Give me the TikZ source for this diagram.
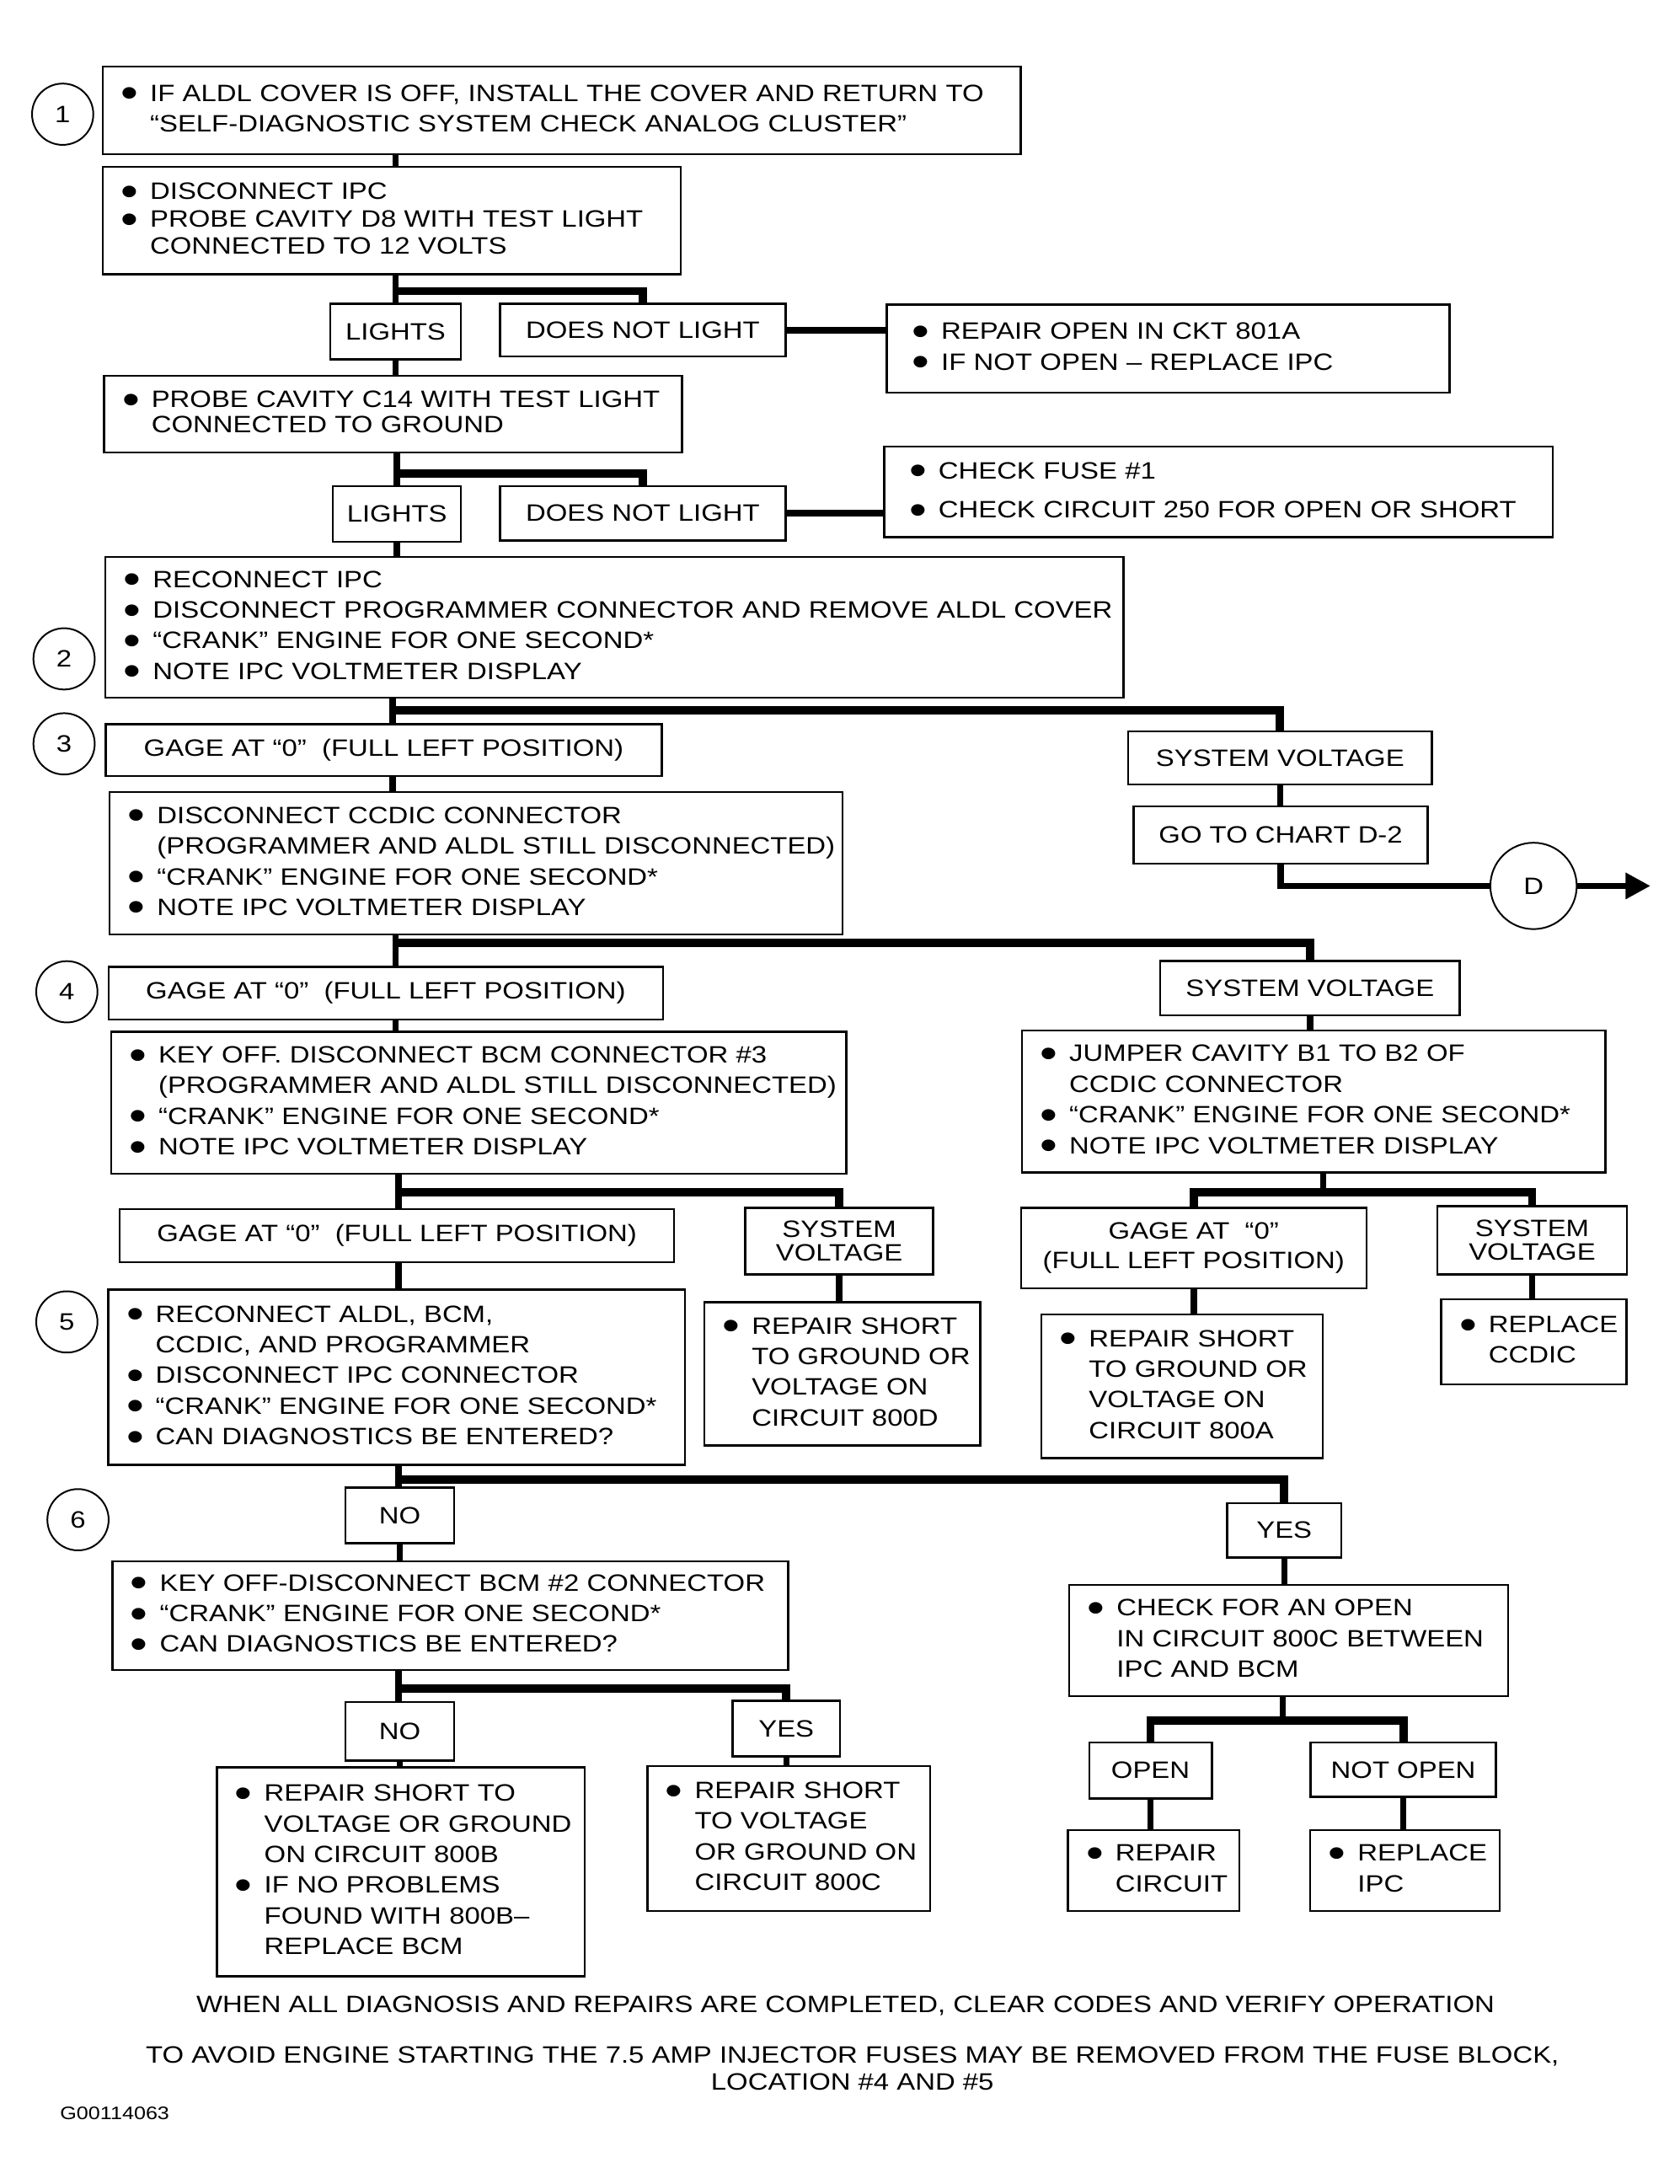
\documentclass[tikz,border=0pt]{standalone}
\usepackage{fontspec}
\setmainfont{Liberation Sans}[FakeStretch=1.17]
\usetikzlibrary{arrows.meta}

\newcommand\chartfont{\fontsize{17}{22}\selectfont}
\newcommand\bul{\makebox[21pt][l]{\raisebox{-4.6pt}{\scalebox{1.8}{\textbullet}}}}
\newcommand\hang{\hspace*{21pt}}
\newcommand\rows[1]{\noindent\begin{tabular}{@{}l@{}}#1\end{tabular}}

\tikzstyle{every node}=[font=\chartfont]
\tikzstyle{box}=[draw, line width=1.5pt, inner ysep=0pt]
\tikzstyle{txt}=[box, anchor=north west, align=left, inner xsep=13pt]
\tikzstyle{lbl}=[box, align=center, inner sep=0pt]
\tikzstyle{num}=[draw, circle, line width=1.2pt, minimum size=44pt, inner sep=0pt]
\tikzstyle{link}=[line width=4.5pt]
\tikzstyle{bar}=[line width=6pt]

\begin{document}
\begin{tikzpicture}[x=1pt, y=-1pt]
\useasboundingbox (0,0) rectangle (1205.6,1567.9);
% Step numbers
    \node[num] (n1) at (45,82) {1};
    \node[num] (n2) at (46,473) {2};
    \node[num] (n3) at (46,534) {3};
    \node[num] (n4) at (48,712) {4};
    \node[num] (n5) at (48,949) {5};
    \node[num] (n6) at (56,1091) {6};
%Test steps
    \node[txt, text width=633pt, minimum height=63pt] (cover) at (73,47) {\rows{\bul IF ALDL COVER IS OFF, INSTALL THE COVER AND RETURN TO\\ \hang “SELF-DIAGNOSTIC SYSTEM CHECK ANALOG CLUSTER”}};
    \node[txt, text width=389pt, minimum height=77pt] (probeD8) at (73,119) {\rows{\bul DISCONNECT IPC\\[-2pt] \bul PROBE CAVITY D8 WITH TEST LIGHT\\[-3pt] \hang CONNECTED TO 12 VOLTS}};
    \node[txt, text width=389pt, minimum height=55pt] (probeC14) at (74,269) {\rows{\bul PROBE CAVITY C14 WITH TEST LIGHT\\[-4pt] \hang CONNECTED TO GROUND}};
    \node[txt, text width=705pt, minimum height=101pt] (reconIPC) at (75,399) {\rows{\bul RECONNECT IPC\\ \bul DISCONNECT PROGRAMMER CONNECTOR AND REMOVE ALDL COVER\\ \bul “CRANK” ENGINE FOR ONE SECOND*\\ \bul NOTE IPC VOLTMETER DISPLAY}};
    \node[txt, text width=500pt, minimum height=102pt] (ccdic) at (78,568) {\rows{\bul DISCONNECT CCDIC CONNECTOR\\ \hang (PROGRAMMER AND ALDL STILL DISCONNECTED)\\ \bul “CRANK” ENGINE FOR ONE SECOND*\\ \bul NOTE IPC VOLTMETER DISPLAY}};
    \node[txt, text width=502pt, minimum height=102pt] (bcm3) at (79,740) {\rows{\bul KEY OFF. DISCONNECT BCM CONNECTOR \#3\\ \hang (PROGRAMMER AND ALDL STILL DISCONNECTED)\\ \bul “CRANK” ENGINE FOR ONE SECOND*\\ \bul NOTE IPC VOLTMETER DISPLAY}};
    \node[txt, text width=393pt, minimum height=102pt] (jumper) at (733,739) {\rows{\bul JUMPER CAVITY B1 TO B2 OF\\ \hang CCDIC CONNECTOR\\ \bul “CRANK” ENGINE FOR ONE SECOND*\\ \bul NOTE IPC VOLTMETER DISPLAY}};
    \node[txt, text width=388pt, minimum height=126pt] (reconALDL) at (77,925) {\rows{\bul RECONNECT ALDL, BCM,\\ \hang CCDIC, AND PROGRAMMER\\ \bul DISCONNECT IPC CONNECTOR\\ \bul “CRANK” ENGINE FOR ONE SECOND*\\ \bul CAN DIAGNOSTICS BE ENTERED?}};
    \node[txt, text width=459pt, minimum height=78pt] (bcm2) at (80,1120) {\rows{\bul KEY OFF-DISCONNECT BCM \#2 CONNECTOR\\ \bul “CRANK” ENGINE FOR ONE SECOND*\\ \bul CAN DIAGNOSTICS BE ENTERED?}};
    \node[txt, text width=289pt, minimum height=80pt] (openchk) at (767,1137) {\rows{\bul CHECK FOR AN OPEN\\ \hang IN CIRCUIT 800C BETWEEN\\ \hang IPC AND BCM}};
%Repairs
    \node[txt, inner xsep=18pt, text width=368pt, minimum height=63pt] (repair801) at (636,218) {\rows{\bul REPAIR OPEN IN CKT 801A\\ \bul IF NOT OPEN -- REPLACE IPC}};
    \node[txt, inner xsep=18pt, text width=444pt, minimum height=65pt] (fuse) at (634,320) {\rows{\bul CHECK FUSE \#1\\[6pt] \bul CHECK CIRCUIT 250 FOR OPEN OR SHORT}};
    \node[txt, text width=172pt, minimum height=103pt] (short800D) at (505,934) {\rows{\bul REPAIR SHORT\\ \hang TO GROUND OR\\ \hang VOLTAGE ON\\ \hang CIRCUIT 800D}};
    \node[txt, text width=176pt, minimum height=103pt] (short800A) at (747,943) {\rows{\bul REPAIR SHORT\\ \hang TO GROUND OR\\ \hang VOLTAGE ON\\ \hang CIRCUIT 800A}};
    \node[txt, text width=107pt, minimum height=61pt] (replCCDIC) at (1034,932) {\rows{\bul REPLACE\\ \hang CCDIC}};
    \node[txt, text width=238pt, minimum height=150pt] (short800B) at (155,1268) {\rows{\bul REPAIR SHORT TO\\ \hang VOLTAGE OR GROUND\\ \hang ON CIRCUIT 800B\\ \bul IF NO PROBLEMS\\ \hang FOUND WITH 800B--\\ \hang REPLACE BCM}};
    \node[txt, text width=177pt, minimum height=104pt] (short800C) at (464,1267) {\rows{\bul REPAIR SHORT\\ \hang TO VOLTAGE\\ \hang OR GROUND ON\\ \hang CIRCUIT 800C}};
    \node[txt, text width=97pt, minimum height=58pt] (repcirc) at (766,1313) {\rows{\bul REPAIR\\ \hang CIRCUIT}};
    \node[txt, text width=110pt, minimum height=58pt] (repIPC) at (940,1313) {\rows{\bul REPLACE\\ \hang IPC}};
%Answers
    \node[lbl, minimum width=94pt, minimum height=40pt] (lightsA) at (284,238) {LIGHTS};
    \node[lbl, minimum width=205pt, minimum height=38pt] (darkA) at (461.5,237) {DOES NOT LIGHT};
    \node[lbl, minimum width=92pt, minimum height=40pt] (lightsB) at (285,369) {LIGHTS};
    \node[lbl, minimum width=205pt, minimum height=39pt] (darkB) at (461.5,368.5) {DOES NOT LIGHT};
    \node[lbl, minimum width=399pt, minimum height=37pt] (gageA) at (275.5,538.5) {GAGE AT “0”\ \ (FULL LEFT POSITION)};
    \node[lbl, minimum width=218pt, minimum height=38pt] (voltA) at (919,544) {SYSTEM VOLTAGE};
    \node[lbl, minimum width=211pt, minimum height=41pt] (chartD2) at (919.5,599.5) {GO TO CHART D-2};
    \node[num, minimum size=62pt] (exitD) at (1101,636) {D};
    \node[lbl, minimum width=398pt, minimum height=38pt] (gageB) at (277,713) {GAGE AT “0”\ \ (FULL LEFT POSITION)};
    \node[lbl, minimum width=215pt, minimum height=39pt] (voltB) at (940.5,709.5) {SYSTEM VOLTAGE};
    \node[lbl, minimum width=398pt, minimum height=38pt] (gageC) at (285,887) {GAGE AT “0”\ \ (FULL LEFT POSITION)};
    \node[lbl, minimum width=135pt, minimum height=48pt] (voltC) at (602.5,891) {SYSTEM\\[-5pt] VOLTAGE};
    \node[lbl, minimum width=248pt, minimum height=58pt] (gageD) at (857,896) {GAGE AT \ “0”\\[-1pt] (FULL LEFT POSITION)};
    \node[lbl, minimum width=136pt, minimum height=49pt] (voltD) at (1100,890.5) {SYSTEM\\[-5pt] VOLTAGE};
    \node[lbl, minimum width=78pt, minimum height=40pt] (noA) at (287,1088) {NO};
    \node[lbl, minimum width=82pt, minimum height=39pt] (yesA) at (922,1098.5) {YES};
    \node[lbl, minimum width=78pt, minimum height=42pt] (noB) at (287,1243) {NO};
    \node[lbl, minimum width=77pt, minimum height=40pt] (yesB) at (564.5,1241) {YES};
    \node[lbl, minimum width=88pt, minimum height=40pt] (openA) at (826,1271) {OPEN};
    \node[lbl, minimum width=133pt, minimum height=39pt] (notopenA) at (1007.5,1270.5) {NOT OPEN};
%Notes
    \node (noteA) at (607,1440) {WHEN ALL DIAGNOSIS AND REPAIRS ARE COMPLETED, CLEAR CODES AND VERIFY OPERATION};
    \node[align=center, font=\fontsize{17}{19}\selectfont] (noteB) at (612,1485) {TO AVOID ENGINE STARTING THE 7.5 AMP INJECTOR FUSES MAY BE REMOVED FROM THE FUSE BLOCK,\\ LOCATION \#4 AND \#5};
    \node[anchor=west, inner sep=0pt, font=\fontsize{13}{15}\selectfont] (figcode) at (43,1517) {G00114063};
%Junctions
    \coordinate (jA) at (284,209);
    \coordinate (jB) at (285,340);
    \coordinate (jC) at (282,510);
    \coordinate (jD) at (284,677);
    \coordinate (jE) at (286,856);
    \coordinate (jF) at (950,856);
    \coordinate (jG) at (286,1062);
    \coordinate (jH) at (286,1212);
    \coordinate (jI) at (921,1235);
    \coordinate (arrowD) at (1185,636);
%Links
    \draw[link] (cover.south -| lightsA) -- (probeD8.north -| lightsA);
    \draw[link] (probeD8.south -| lightsA) -- (lightsA.north);
    \draw[bar] (jA) -| (darkA.north);
    \draw[link] (darkA.east) -- (darkA.east -| repair801.west);
    \draw[link] (lightsA.south) -- (probeC14.north -| lightsA);
    \draw[link] (probeC14.south -| lightsB) -- (lightsB.north);
    \draw[bar] (jB) -| (darkB.north);
    \draw[link] (darkB.east) -- (darkB.east -| fuse.west);
    \draw[link] (lightsB.south) -- (reconIPC.north -| lightsB);
    \draw[link] (reconIPC.south -| jC) -- (gageA.north -| jC);
    \draw[bar] (jC) -| (voltA.north);
    \draw[link] (gageA.south -| jC) -- (ccdic.north -| jC);
    \draw[link] (voltA.south) -- (chartD2.north -| voltA);
    \draw[link] (chartD2.south) |- (exitD.west);
    \draw[link, -{Triangle[length=18pt, width=18pt]}] (exitD.east) -- (arrowD);
    \draw[link] (ccdic.south -| jD) -- (gageB.north -| jD);
    \draw[bar] (jD) -| (voltB.north);
    \draw[link] (gageB.south -| jD) -- (bcm3.north -| jD);
    \draw[link] (voltB.south) -- (jumper.north -| voltB);
    \draw[link] (bcm3.south -| jE) -- (gageC.north -| jE);
    \draw[bar] (jE) -| (voltC.north);
    \draw[link] (gageC.south -| jE) -- (reconALDL.north -| jE);
    \draw[link] (voltC.south) -- (short800D.north -| voltC);
    \draw[link] (jumper.south -| jF) -- (jF);
    \draw[bar] (gageD.north) |- (jF) -| (voltD.north);
    \draw[link] (gageD.south) -- (short800A.north -| gageD);
    \draw[link] (voltD.south) -- (replCCDIC.north -| voltD);
    \draw[link] (reconALDL.south -| jG) -- (noA.north -| jG);
    \draw[bar] (jG) -| (yesA.north);
    \draw[link] (noA.south) -- (bcm2.north -| noA);
    \draw[link] (yesA.south) -- (openchk.north -| yesA);
    \draw[link] (bcm2.south -| jH) -- (noB.north -| jH);
    \draw[bar] (jH) -| (yesB.north);
    \draw[link] (noB.south) -- (short800B.north -| noB);
    \draw[link] (yesB.south) -- (short800C.north -| yesB);
    \draw[link] (openchk.south -| jI) -- (jI);
    \draw[bar] (openA.north) |- (jI) -| (notopenA.north);
    \draw[link] (openA.south) -- (repcirc.north -| openA);
    \draw[link] (notopenA.south) -- (repIPC.north -| notopenA);
\end{tikzpicture}
\end{document}
